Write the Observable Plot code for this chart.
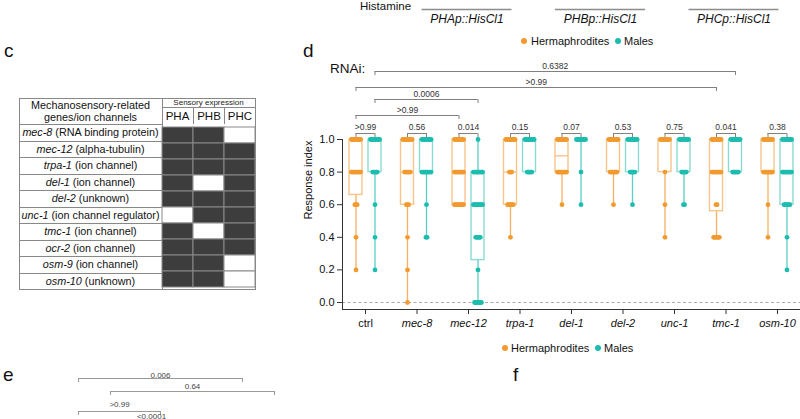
<!DOCTYPE html>
<html><head><meta charset="utf-8">
<script src="https://cdn.jsdelivr.net/npm/d3@7"></script>
<script src="https://cdn.jsdelivr.net/npm/@observablehq/plot@0.6"></script>
<style>
html,body{margin:0;padding:0;background:#fff;}
body{position:relative;width:800px;height:419px;overflow:hidden;font-family:"Liberation Sans",Arial,Helvetica,sans-serif;color:#111;}
.a{position:absolute;white-space:nowrap;line-height:1;}
</style></head><body>
<script>
// ---------------- DATA ----------------
const genes = ["ctrl","mec-8","mec-12","trpa-1","del-1","del-2","unc-1","tmc-1","osm-10"];
const sexes = ["Hermaphrodites","Males"];
const responseLevels = [1.0, 0.8, 0.6, 0.4, 0.2, 0.0];
// box statistics per gene: [q1, median, q3, min, max]
const hermBox = [
  [0.66,0.8,1,0.2,1],
  [0.6,0.8,1,0.0,1],
  [0.6,0.8,1,0.6,1],
  [0.6,0.8,1,0.4,1],
  [0.8,0.9,1,0.6,1],
  [0.8,1,1,0.6,1],
  [0.8,1,1,0.4,1],
  [0.56,0.8,1,0.4,1],
  [0.8,1,1,0.4,1]
];
const maleBox = [
  [0.8,1,1,0.2,1],
  [0.8,1,1,0.4,1],
  [0.26,0.6,0.8,0.0,1],
  [0.8,1,1,0.8,1],
  [1,1,1,0.6,1],
  [0.8,1,1,0.6,1],
  [0.8,1,1,0.6,1],
  [0.8,1,1,0.8,1],
  [0.6,0.8,1,0.2,1]
];
// animals at each response level (1.0, 0.8, 0.6, 0.4, 0.2, 0.0)
const hermCounts = [
  [9,9,3,1,1,0],
  [9,6,3,1,1,1],
  [9,9,9,0,0,0],
  [9,3,6,1,0,0],
  [9,9,1,0,0,0],
  [9,7,1,0,0,0],
  [9,1,1,1,0,0],
  [9,9,2,6,0,0],
  [9,9,1,1,0,0]
];
const maleCounts = [
  [9,5,1,1,1,0],
  [9,9,1,2,0,0],
  [1,9,9,5,1,7],
  [9,5,0,0,0,0],
  [9,1,1,0,0,0],
  [9,5,1,0,0,0],
  [9,5,2,0,0,0],
  [9,6,0,0,0,0],
  [9,9,6,1,1,0]
];
const pairP = [">0.99","0.56","0.014","0.15","0.07","0.53","0.75","0.041","0.38"];
const crossP = [">0.99","0.0006",">0.99","0.6382"];
const crossFrom = ["ctrl","ctrl","ctrl","ctrl"];
const crossTo = ["mec-12","mec-12","tmc-1","tmc-1"];
const crossSex = ["Hermaphrodites","Males","Hermaphrodites","Males"];
const yTicks = [0, 0.2, 0.4, 0.6, 0.8, 1.0];

const promoters = ["PHAp::HisCl1","PHBp::HisCl1","PHCp::HisCl1"];

const tableGenes = ["mec-8","mec-12","trpa-1","del-1","del-2","unc-1","tmc-1","ocr-2","osm-9","osm-10"];
const tableRoles = ["RNA binding protein","alpha-tubulin","ion channel","ion channel","unknown","ion channel regulator","ion channel","ion channel","ion channel","unknown"];
const neurons = ["PHA","PHB","PHC"];
const exprPHA = [1,1,1,1,1,0,1,1,1,1];
const exprPHB = [1,1,1,0,1,1,0,1,1,1];
const exprPHC = [0,1,1,1,1,1,1,1,0,0];

const eP = ["0.006","0.64",">0.99","<0.0001"];
const eFrom = [0,0,0,0];
const eTo = [2,2,1,1];
const eSex = ["Hermaphrodites","Males","Hermaphrodites","Males"];

// ---------------- STYLE ----------------
const COL = {
  Hermaphrodites: {dot: "#F29A2E", box: "#F7C58C", whisk: "#F4B061"},
  Males: {dot: "#1CBDAF", box: "#8BDBD2", whisk: "#5ACFC3"}
};
const pxPerY = 163, pxPerX = 51.5;
const yMin = -7 / pxPerY;
const xMin = -23 / pxPerX, xMax = 435 / pxPerX;
const sexOff = 9.5 / pxPerX, boxHalf = 6.5 / pxPerX, dotGap = 1.15 / pxPerX;
const rise = px => 1 + px / pxPerY;
const sOff = s => (s === "Males" ? sexOff : -sexOff);

function txt(s, x, base, size, o = {}) {
  const d = document.createElement("div");
  d.className = "a";
  d.style.left = x + "px";
  d.style.top = (base - 0.8465 * size) + "px";
  d.style.fontSize = size + "px";
  if (o.anchor === "middle") d.style.transform = "translateX(-50%)";
  if (o.anchor === "end") d.style.transform = "translateX(-100%)";
  if (o.italic) d.style.fontStyle = "italic";
  if (o.color) d.style.color = o.color;
  d.textContent = s;
  document.body.appendChild(d);
  return d;
}
function place(svg, left, top) {
  svg.style.position = "absolute";
  svg.style.left = left + "px";
  svg.style.top = top + "px";
  svg.style.background = "transparent";
  svg.style.overflow = "visible";
  svg.style.maxWidth = "none";
  document.body.appendChild(svg);
}

// ---------------- PANEL d ----------------
const rows = [];
const dots = [];
genes.forEach((g, i) => {
  sexes.forEach((s, j) => {
    const b = (j ? maleBox : hermBox)[i];
    const xc = i + sOff(s);
    rows.push({gene: g, sex: s, xc, q1: b[0], med: b[1], q3: b[2], lo: b[3], hi: b[4]});
    const counts = (j ? maleCounts : hermCounts)[i];
    counts.forEach((c, k) => {
      for (let m = 0; m < c; m++) dots.push({sex: s, v: responseLevels[k], x: xc + (m - (c - 1) / 2) * dotGap});
    });
  });
});
const pairs = genes.map((g, i) => ({i, p: pairP[i]}));
const pairTicks = pairs.flatMap(d => [{x: d.i - sexOff}, {x: d.i + sexOff}]);
const crossLift = [24, 40, 52, 68];
const cross = crossP.map((p, k) => ({
  p, lift: crossLift[k],
  x1: genes.indexOf(crossFrom[k]) + sOff(crossSex[k]),
  x2: genes.indexOf(crossTo[k]) + sOff(crossSex[k])
}));
const crossTicks = cross.flatMap(d => [{x: d.x1, lift: d.lift}, {x: d.x2, lift: d.lift}]);
const bracketStroke = "#808080";

const main = Plot.plot({
  width: 800, height: 419,
  marginLeft: 342, marginRight: 0, marginTop: 139, marginBottom: 110,
  x: {domain: [xMin, xMax]},
  y: {domain: [yMin, 1]},
  color: {type: "identity"},
  style: {fontFamily: "Liberation Sans, Arial, sans-serif", fontSize: "11px", color: "#111", background: "transparent"},
  marks: [
    Plot.ruleY([0], {stroke: "#aaaaaa", strokeDasharray: "3 2.5"}),
    Plot.ruleY([yMin], {stroke: "#333"}),
    Plot.ruleX([xMin], {y1: yMin, y2: 1, stroke: "#333"}),
    Plot.axisY({ticks: yTicks, tickFormat: d => d.toFixed(1), tickSize: 5, tickPadding: 3, fontSize: 11, label: null, stroke: "#333"}),
    Plot.axisX({ticks: d3.range(genes.length), tickFormat: () => "", tickSize: 5, label: null, stroke: "#333"}),
    Plot.text(genes, {filter: (d, i) => i === 0, x: (d, i) => i, y: yMin, text: d => d, dy: 14, fontSize: 11, fill: "#111"}),
    Plot.text(genes, {filter: (d, i) => i > 0, x: (d, i) => i, y: yMin, text: d => d, dy: 14, fontSize: 11, fontStyle: "italic", fill: "#111"}),
    Plot.text(["Response index"], {frameAnchor: "left", rotate: -90, dx: -34, dy: -5, fontSize: 11, fill: "#111"}),
    // whiskers
    Plot.ruleX(rows, {x: "xc", y1: "lo", y2: "q1", stroke: d => COL[d.sex].whisk, strokeWidth: 1.3}),
    Plot.ruleX(rows, {x: "xc", y1: "q3", y2: "hi", stroke: d => COL[d.sex].whisk, strokeWidth: 1.3}),
    // boxes
    Plot.rect(rows, {x1: d => d.xc - boxHalf, x2: d => d.xc + boxHalf, y1: "q1", y2: "q3", fill: "white", stroke: d => COL[d.sex].box, strokeWidth: 1.4}),
    Plot.ruleY(rows, {x1: d => d.xc - boxHalf, x2: d => d.xc + boxHalf, y: "med", stroke: d => COL[d.sex].box, strokeWidth: 1.4}),
    // points
    Plot.dot(dots, {x: "x", y: "v", r: 2.4, fill: d => COL[d.sex].dot}),
    // pair brackets
    Plot.ruleY(pairs, {x1: d => d.i - sexOff, x2: d => d.i + sexOff, y: rise(6), stroke: bracketStroke}),
    Plot.ruleX(pairTicks, {x: "x", y1: rise(2), y2: rise(6), stroke: bracketStroke}),
    Plot.text(pairs, {x: "i", y: rise(6), text: "p", lineAnchor: "bottom", dy: -4, fontSize: 8.5, fill: "#333"}),
    // cross brackets
    Plot.ruleY(cross, {x1: "x1", x2: "x2", y: d => rise(d.lift), stroke: bracketStroke}),
    Plot.ruleX(crossTicks, {x: "x", y1: d => rise(d.lift - 4), y2: d => rise(d.lift), stroke: bracketStroke}),
    Plot.text(cross, {x: d => (d.x1 + d.x2) / 2, y: d => rise(d.lift), text: "p", lineAnchor: "bottom", dy: -3, fontSize: 8.5, fill: "#333"})
  ]
});
place(main, 0, 0);

// ---------------- header (cropped panel above) ----------------
const header = Plot.plot({
  width: 800, height: 30, marginLeft: 466.5, marginRight: 66.5, marginTop: 0, marginBottom: 0,
  x: {domain: [0, 2], axis: null},
  y: {type: "identity", axis: null},
  style: {fontFamily: "Liberation Sans, Arial, sans-serif", background: "transparent"},
  marks: [
    Plot.ruleY(promoters, {x1: (d, i) => i - 0.337, x2: (d, i) => i + 0.337, y: 9, stroke: "#8c8c8c", strokeWidth: 1.5}),
    Plot.text(promoters, {x: (d, i) => i, y: 19, text: d => d, fontStyle: "italic", fontSize: 12, fill: "#111"})
  ]
});
place(header, 0, 0);
txt("Histamine", 360, 10.5, 11.5);

// ---------------- legends & panel letters ----------------
function legend(y, xs) {
  sexes.forEach((s, j) => {
    const dot = document.createElement("div");
    dot.className = "a";
    Object.assign(dot.style, {left: (xs[2 * j] - 3) + "px", top: (y - 3) + "px", width: "6px", height: "6px", borderRadius: "50%", background: COL[s].dot});
    document.body.appendChild(dot);
    txt(s, xs[2 * j + 1], y + 4, 11);
  });
}
legend(41, [524, 531, 618, 624]);
legend(348, [505, 511, 598, 604]);
txt("c", 4, 57, 19);
txt("d", 303, 57, 19);
txt("e", 3, 381, 19);
txt("f", 513, 381, 19);
txt("RNAi:", 330, 73, 13.5);

// ---------------- PANEL c table ----------------
const T = {left: 19, top: 98, colW: 143, head: 26, rowH: 16.5, cellW: 31};
const tblH = T.head + T.rowH * tableGenes.length;
const outer = document.createElement("div");
outer.className = "a";
Object.assign(outer.style, {left: T.left + "px", top: T.top + "px", width: (T.colW + 3 * T.cellW + 1) + "px", height: (tblH + 1) + "px", border: "1px solid #888", boxSizing: "border-box"});
document.body.appendChild(outer);
const vline = document.createElement("div");
vline.className = "a";
Object.assign(vline.style, {left: (T.left + T.colW) + "px", top: T.top + "px", width: "1px", height: tblH + "px", background: "#888"});
document.body.appendChild(vline);
const hd = document.createElement("div");
hd.className = "a";
Object.assign(hd.style, {left: T.left + "px", top: (T.top + 1) + "px", width: T.colW + "px", textAlign: "center", fontSize: "10.8px", lineHeight: "12px"});
hd.innerHTML = "Mechanosensory-related<br>genes/ion channels";
document.body.appendChild(hd);
const se = document.createElement("div");
se.className = "a";
Object.assign(se.style, {left: (T.left + T.colW) + "px", top: T.top + "px", width: (3 * T.cellW) + "px", height: "9px", borderBottom: "1px solid #888", textAlign: "center", fontSize: "8px", lineHeight: "9px", color: "#222"});
se.textContent = "Sensory expression";
document.body.appendChild(se);
neurons.forEach((n, k) => {
  const c = document.createElement("div");
  c.className = "a";
  Object.assign(c.style, {left: (T.left + T.colW + k * T.cellW) + "px", top: (T.top + 10) + "px", width: T.cellW + "px", height: (T.head - 10) + "px", borderLeft: k ? "1px solid #888" : "none", textAlign: "center", fontSize: "11.5px", lineHeight: (T.head - 10) + "px", boxSizing: "border-box"});
  c.textContent = n;
  document.body.appendChild(c);
});
tableGenes.forEach((g, k) => {
  const r = document.createElement("div");
  r.className = "a";
  Object.assign(r.style, {left: T.left + "px", top: (T.top + T.head + k * T.rowH) + "px", width: T.colW + "px", height: T.rowH + "px", borderTop: "1px solid #888", textAlign: "center", fontSize: "10.8px", lineHeight: (T.rowH - 1) + "px", boxSizing: "border-box"});
  const i = document.createElement("i");
  i.textContent = g;
  r.appendChild(i);
  r.appendChild(document.createTextNode(" (" + tableRoles[k] + ")"));
  document.body.appendChild(r);
});
const cells = [];
tableGenes.forEach((g, k) => {
  [exprPHA, exprPHB, exprPHC].forEach((arr, j) => cells.push({gene: g, neuron: neurons[j], on: arr[k]}));
});
const grid = Plot.plot({
  width: 3 * T.cellW + 2, height: T.rowH * tableGenes.length + 2,
  marginLeft: 1, marginRight: 1, marginTop: 1, marginBottom: 1,
  x: {domain: neurons, padding: 0, axis: null},
  y: {domain: tableGenes, padding: 0, axis: null},
  color: {type: "identity"},
  style: {background: "transparent"},
  marks: [
    Plot.cell(cells, {x: "neuron", y: "gene", fill: d => d.on ? "#3d3d3d" : "#ffffff", stroke: "#8a8a8a", strokeWidth: 1})
  ]
});
place(grid, T.left + T.colW - 1, T.top + T.head - 1);

// ---------------- PANEL e brackets (cropped) ----------------
const eOff = 16 / 82;
const eData = eP.map((p, k) => ({p, k,
  x1: eFrom[k] + (eSex[k] === "Males" ? eOff : -eOff),
  x2: eTo[k] + (eSex[k] === "Males" ? eOff : -eOff)}));
const eLine = [23, 36, 56, 67];
const eDy = [-1, -3, -5, -4];
const eTicks = eData.flatMap(d => [{x: d.x1, k: d.k}, {x: d.x2, k: d.k}]);
const panelE = Plot.plot({
  width: 300, height: 64, marginLeft: 94, marginRight: 42, marginTop: 0, marginBottom: 0,
  x: {domain: [0, 2], axis: null},
  y: {type: "identity", axis: null},
  style: {fontFamily: "Liberation Sans, Arial, sans-serif", background: "transparent"},
  marks: [
    Plot.ruleY(eData, {x1: "x1", x2: "x2", y: d => eLine[d.k], stroke: "#9a9a9a"}),
    Plot.ruleX(eTicks, {x: "x", y1: d => eLine[d.k], y2: d => eLine[d.k] + 4, stroke: "#9a9a9a"}),
    Plot.text(eData, {x: d => (d.x1 + d.x2) / 2, y: d => eLine[d.k] + eDy[d.k], text: "p", lineAnchor: "bottom", fontSize: 8, fill: "#444"})
  ]
});
place(panelE, 0, 355);
</script>
</body></html>
